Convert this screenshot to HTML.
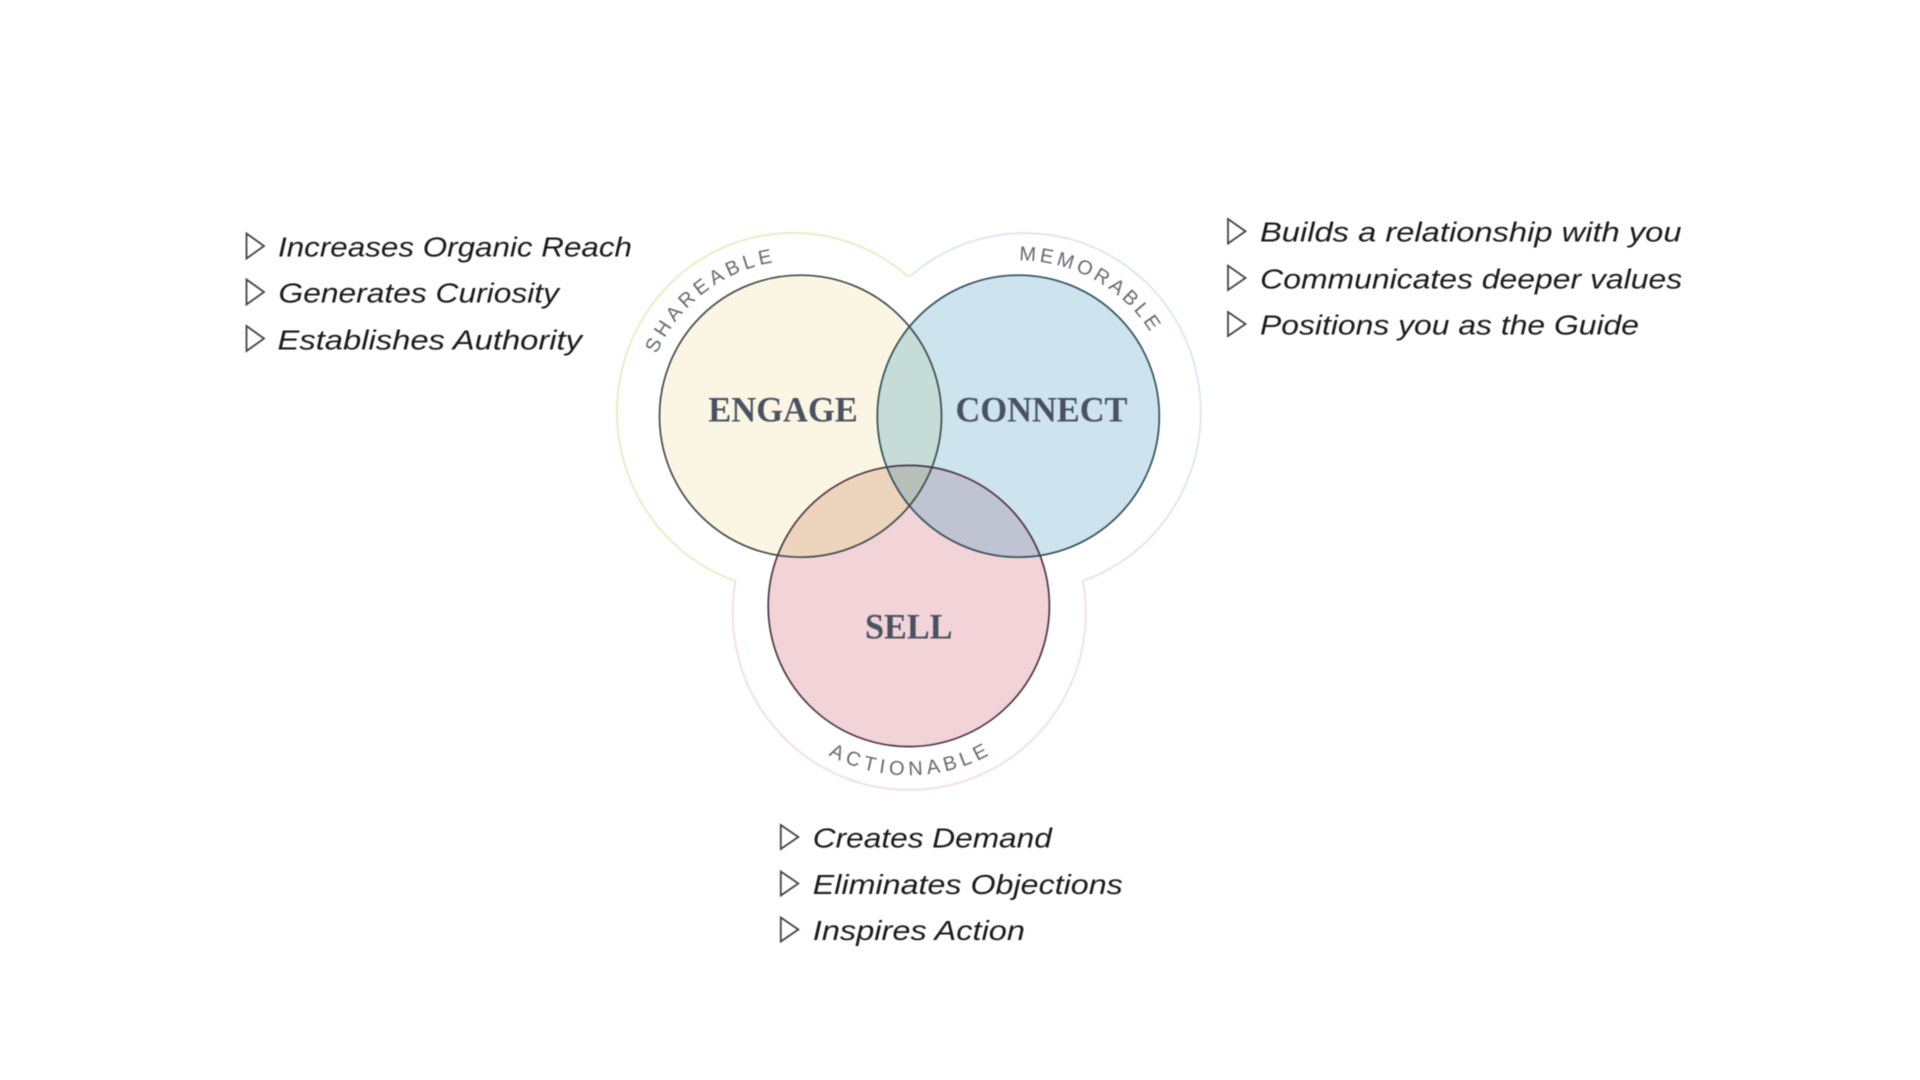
<!DOCTYPE html>
<html>
<head>
<meta charset="utf-8">
<style>
html,body{margin:0;padding:0;background:#fff;width:1920px;height:1080px;overflow:hidden}
svg{display:block;filter:blur(0.5px)}
.li{font-family:"Liberation Sans",sans-serif;font-style:italic;font-size:28px;fill:#1a1a1a}
.h{font-family:"Liberation Serif",serif;font-weight:bold;font-size:35.5px;fill:#4a5160}
.c{font-family:"Liberation Sans",sans-serif;font-size:20px;fill:#66696f}
.t{fill:none;stroke:#444;stroke-width:1.8;stroke-linejoin:miter}
</style>
</head>
<body>
<svg width="1920" height="1080" viewBox="0 0 1920 1080" xmlns="http://www.w3.org/2000/svg">
<defs>
<path id="pa" d="M656.8 354.1 A156 156 0 0 1 853.4 269.4"/>
<path id="pb" d="M1019 260.5 A155.5 155.5 0 0 1 1172.6 388.9"/>
<path id="pc" d="M828.4 754.9 A169 169 0 0 0 1055.2 690.7"/>
<clipPath id="ce"><circle cx="800.5" cy="416.2" r="141"/></clipPath>
<clipPath id="cc"><circle cx="1018.3" cy="416.2" r="141"/></clipPath>
</defs>
<rect width="1920" height="1080" fill="#fff"/>

<path d="M908.3 276.7 A176 178.9 0 1 0 735.7 581" fill="none" stroke="#f2e9c8" stroke-width="2"/>
<path d="M909.7 276.7 A176 178.9 0 1 1 1082.7 581" fill="none" stroke="#dce8f2" stroke-width="2"/>
<path d="M735.7 581 A176.5 176.5 0 1 0 1082.7 581" fill="none" stroke="#f5dfe4" stroke-width="2"/>

<circle cx="800.5" cy="416.2" r="141" fill="#faf6e3"/>
<circle cx="1018.3" cy="416.2" r="141" fill="#cde3ee"/>
<circle cx="908.8" cy="606" r="140.6" fill="#f2d4d8"/>
<circle cx="1018.3" cy="416.2" r="141" fill="#c5ddd6" clip-path="url(#ce)"/>
<circle cx="908.8" cy="606" r="140.6" fill="#ecd4bd" clip-path="url(#ce)"/>
<circle cx="908.8" cy="606" r="140.6" fill="#bfc3d2" clip-path="url(#cc)"/>
<g clip-path="url(#ce)"><circle cx="908.8" cy="606" r="140.6" fill="#b6c0b8" clip-path="url(#cc)"/></g>

<circle cx="800.5" cy="416.2" r="141" fill="none" stroke="#434d47" stroke-width="1.7"/>
<circle cx="1018.3" cy="416.2" r="141" fill="none" stroke="#33505e" stroke-width="1.7"/>
<circle cx="908.8" cy="606" r="140.6" fill="none" stroke="#4c3644" stroke-width="1.7"/>

<text class="h" x="708.3" y="421.7" textLength="149.5" lengthAdjust="spacingAndGlyphs">ENGAGE</text>
<text class="h" x="955.5" y="421.7" textLength="172" lengthAdjust="spacingAndGlyphs">CONNECT</text>
<text class="h" x="865" y="638.3" textLength="87.5" lengthAdjust="spacingAndGlyphs">SELL</text>

<text class="c" style="letter-spacing:4.25px"><textPath href="#pa">SHAREABLE</textPath></text>
<text class="c" style="letter-spacing:3.5px"><textPath href="#pb">MEMORABLE</textPath></text>
<text class="c" style="letter-spacing:4.5px"><textPath href="#pc">ACTIONABLE</textPath></text>

<polygon class="t" points="246.5,233.5 264,246 246.5,258.5"/>
<polygon class="t" points="246.5,279.5 264,292 246.5,304.5"/>
<polygon class="t" points="246.5,326 264,338.5 246.5,351"/>
<text class="li" x="278" y="256.7" textLength="354" lengthAdjust="spacingAndGlyphs">Increases Organic Reach</text>
<text class="li" x="278.5" y="302.7" textLength="280.5" lengthAdjust="spacingAndGlyphs">Generates Curiosity</text>
<text class="li" x="277.5" y="349.3" textLength="304.5" lengthAdjust="spacingAndGlyphs">Establishes Authority</text>

<polygon class="t" points="1228,219 1245.5,231.3 1228,243.5"/>
<polygon class="t" points="1228,265.7 1245.5,278 1228,290"/>
<polygon class="t" points="1228,312 1245.5,324 1228,336"/>
<text class="li" x="1260" y="241.7" textLength="421.5" lengthAdjust="spacingAndGlyphs">Builds a relationship with you</text>
<text class="li" x="1260.2" y="288.3" textLength="422" lengthAdjust="spacingAndGlyphs">Communicates deeper values</text>
<text class="li" x="1260" y="334.3" textLength="379" lengthAdjust="spacingAndGlyphs">Positions you as the Guide</text>

<polygon class="t" points="780.8,825 798.3,837 780.8,849"/>
<polygon class="t" points="780.8,871.5 798.3,883.5 780.8,895.5"/>
<polygon class="t" points="780.8,917.5 798.3,929.5 780.8,941.5"/>
<text class="li" x="812.8" y="847.3" textLength="239" lengthAdjust="spacingAndGlyphs">Creates Demand</text>
<text class="li" x="812.8" y="894" textLength="310" lengthAdjust="spacingAndGlyphs">Eliminates Objections</text>
<text class="li" x="812.8" y="940" textLength="212.2" lengthAdjust="spacingAndGlyphs">Inspires Action</text>
</svg>
</body>
</html>
